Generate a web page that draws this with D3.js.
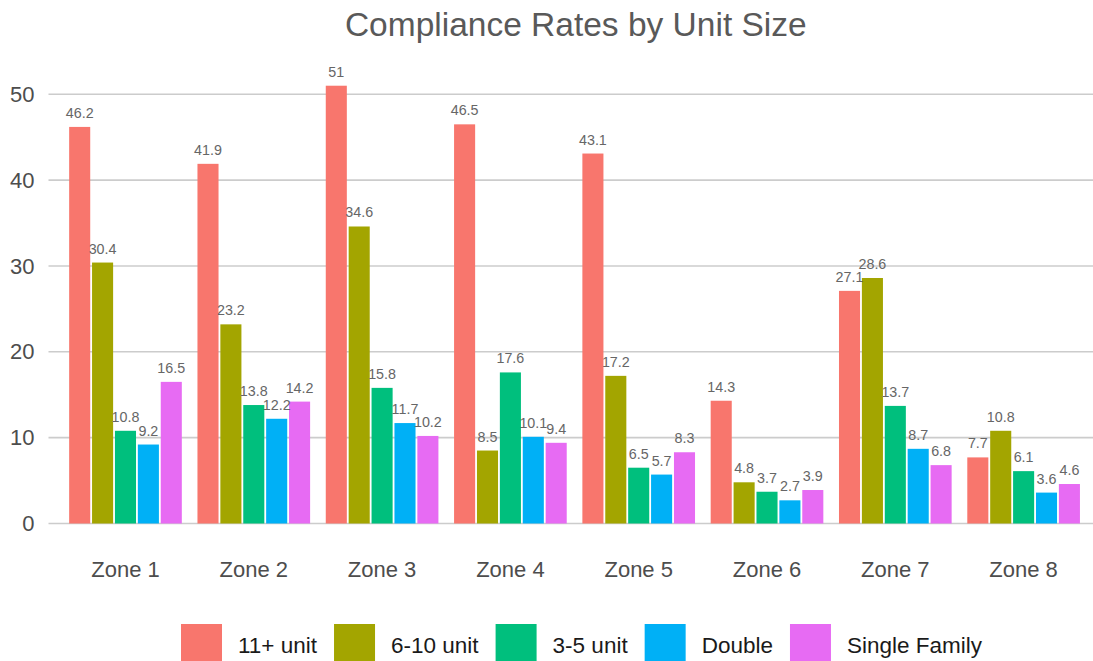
<!DOCTYPE html>
<html>
<head>
<meta charset="utf-8">
<script src="https://cdn.jsdelivr.net/npm/d3@7"></script>
<style>
  html, body { margin: 0; padding: 0; background: #ffffff; }
  svg { display: block; font-family: "Liberation Sans", Arial, Helvetica, sans-serif; }
</style>
</head>
<body>
<svg id="chart" width="1093" height="661"></svg>
<script>
const zones = ["Zone 1", "Zone 2", "Zone 3", "Zone 4", "Zone 5", "Zone 6", "Zone 7", "Zone 8"];
const seriesNames = ["11+ unit", "6-10 unit", "3-5 unit", "Double", "Single Family"];
const unit11 = [46.2, 41.9, 51, 46.5, 43.1, 14.3, 27.1, 7.7];
const unit6to10 = [30.4, 23.2, 34.6, 8.5, 17.2, 4.8, 28.6, 10.8];
const unit3to5 = [10.8, 13.8, 15.8, 17.6, 6.5, 3.7, 13.7, 6.1];
const double = [9.2, 12.2, 11.7, 10.1, 5.7, 2.7, 8.7, 3.6];
const singleFamily = [16.5, 14.2, 10.2, 9.4, 8.3, 3.9, 6.8, 4.6];
const yTicks = [0, 10, 20, 30, 40, 50];
const colors = ["#F8766D", "#A3A500", "#00BF7D", "#00B0F6", "#E76BF3"];
const title = "Compliance Rates by Unit Size";

const seriesValues = [unit11, unit6to10, unit3to5, double, singleFamily];
const rows = [];
zones.forEach((z, i) => {
  seriesNames.forEach((s, j) => rows.push({ zone: z, series: s, value: seriesValues[j][i] }));
});

const svg = d3.select("#chart");
const panelLeft = 48.5, panelRight = 1100.6, panelTop = 60, panelBottom = 523.5;

const x0 = d3.scaleBand().domain(zones).range([panelLeft, panelRight])
  .paddingInner(0.122).paddingOuter(0.161);
const x1 = d3.scaleBand().domain(seriesNames).range([0, x0.bandwidth()]).paddingInner(0.08);
const y = d3.scaleLinear().domain([0, 50]).range([panelBottom, 94.3]);
const color = d3.scaleOrdinal().domain(seriesNames).range(colors);

// gridlines
svg.append("g").selectAll("line").data(yTicks).join("line")
  .attr("x1", panelLeft).attr("x2", 1093)
  .attr("y1", d => y(d)).attr("y2", d => y(d))
  .attr("stroke", "#cccccc").attr("stroke-width", 1.6);

// y axis labels
const yAxis = d3.axisLeft(y).tickValues(yTicks).tickSize(0).tickPadding(0);
const yg = svg.append("g").attr("transform", "translate(34.5,0)").call(yAxis);
yg.select(".domain").remove();
yg.selectAll("text").attr("font-size", 22).attr("fill", "#4D4D4D")
  .attr("font-family", "Liberation Sans, Arial, sans-serif");

// x axis labels
const xAxis = d3.axisBottom(x0).tickSize(0).tickPadding(0);
const xg = svg.append("g").attr("transform", "translate(0,560)").call(xAxis);
xg.select(".domain").remove();
xg.selectAll("text").attr("font-size", 22).attr("fill", "#4D4D4D").attr("dy", "0.76em")
  .attr("font-family", "Liberation Sans, Arial, sans-serif");

// bars
svg.append("g").selectAll("rect").data(rows).join("rect")
  .attr("x", d => x0(d.zone) + x1(d.series))
  .attr("width", x1.bandwidth())
  .attr("y", d => y(d.value))
  .attr("height", d => y(0) - y(d.value))
  .attr("fill", d => color(d.series));

// value labels
svg.append("g").selectAll("text").data(rows).join("text")
  .attr("x", d => x0(d.zone) + x1(d.series) + x1.bandwidth() / 2)
  .attr("y", d => y(d.value) - 9)
  .attr("text-anchor", "middle")
  .attr("font-size", 14.3)
  .attr("fill", "#666666")
  .text(d => d.value);

// title
svg.append("text").attr("x", 575.8).attr("y", 35.7).attr("text-anchor", "middle")
  .attr("font-size", 33.5).attr("fill", "#595959").text(title);

// legend
const legend = svg.append("g");
let lx = 181;
seriesNames.forEach((s, i) => {
  legend.append("rect").attr("x", lx).attr("y", 624).attr("width", 41).attr("height", 41)
    .attr("fill", color(s));
  const t = legend.append("text").attr("x", lx + 41 + 16).attr("y", 652.7)
    .attr("font-size", 22.5).attr("fill", "#1a1a1a").text(s);
  lx += 41 + 16 + t.node().getComputedTextLength() + 17;
});
</script>
</body>
</html>
